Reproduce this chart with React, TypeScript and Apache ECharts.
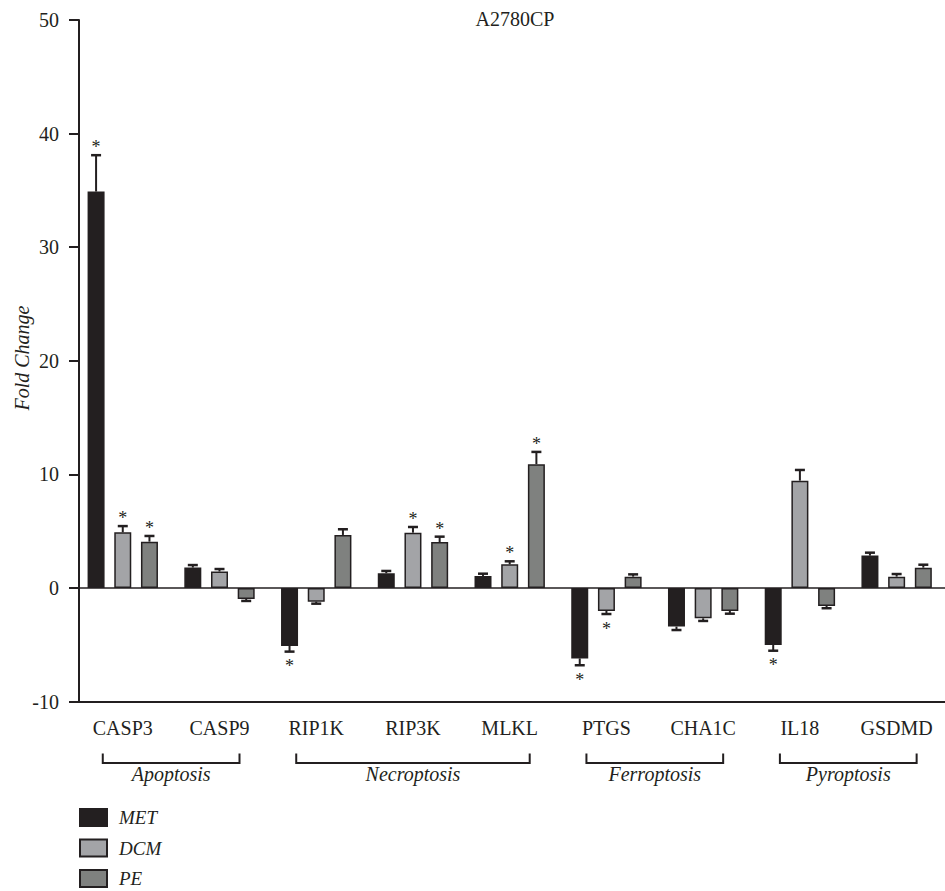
import React, { useEffect, useRef } from "react";
import * as echarts from "echarts";

// Fold change of cell-death marker genes in A2780CP cells
const categories = ["CASP3", "CASP9", "RIP1K", "RIP3K", "MLKL", "PTGS", "CHA1C", "IL18", "GSDMD"];

const metValues = [34.9, 1.8, -5.1, 1.3, 1.06, -6.2, -3.4, -5.02, 2.85];
const metErrors = [3.2, 0.22, 0.5, 0.2, 0.2, 0.6, 0.3, 0.5, 0.26];
const metSignificant = [1, 0, 1, 0, 0, 1, 0, 1, 0];

const dcmValues = [4.9, 1.45, -1.2, 4.87, 2.08, -2.02, -2.67, 9.45, 1.0];
const dcmErrors = [0.55, 0.22, 0.18, 0.5, 0.27, 0.27, 0.23, 0.94, 0.23];
const dcmSignificant = [1, 0, 0, 1, 1, 1, 0, 0, 0];

const peValues = [4.08, -0.97, 4.67, 4.05, 10.9, 1.0, -2.02, -1.58, 1.79];
const peErrors = [0.5, 0.17, 0.5, 0.47, 1.08, 0.2, 0.24, 0.2, 0.26];
const peSignificant = [1, 0, 0, 1, 1, 0, 0, 0, 0];

const groupNames = ["Apoptosis", "Necroptosis", "Ferroptosis", "Pyroptosis"];
const groupFirst = ["CASP3", "RIP1K", "PTGS", "IL18"];
const groupLast = ["CASP9", "MLKL", "CHA1C", "GSDMD"];

const yMin = -10;
const yMax = 50;
const yStep = 10;

const title = "A2780CP";
const yName = "Fold Change";

const INK = "#231f20";
const FONT = "'Liberation Serif', 'DejaVu Serif', serif";
const FS = 20;
const BAR_W = 17;
const BAR_GAP = 0.57;
const PITCH = BAR_W * (1 + BAR_GAP);

const seriesDefs = [
  { name: "MET", values: metValues, errors: metErrors, sig: metSignificant, color: "#231f20", slot: -1 },
  { name: "DCM", values: dcmValues, errors: dcmErrors, sig: dcmSignificant, color: "#a3a4a7", slot: 0 },
  { name: "PE", values: peValues, errors: peErrors, sig: peSignificant, color: "#7f817f", slot: 1 },
];

export default function App() {
  const ref = useRef<HTMLDivElement>(null);

  useEffect(() => {
    if (!ref.current) return;
    const chart = echarts.init(ref.current, undefined, { renderer: "svg" });

    const barSeries: any[] = seriesDefs.map((s, i) => ({
      name: s.name,
      type: "bar",
      data: s.values,
      barWidth: BAR_W,
      barGap: `${BAR_GAP * 100}%`,
      itemStyle: { color: s.color, borderColor: INK, borderWidth: 1.5 },
      z: 2,
      ...(i === 0
        ? {
            markLine: {
              silent: true,
              symbol: ["none", "none"],
              label: { show: false },
              lineStyle: { color: INK, width: 1.6, type: "solid" },
              data: [{ yAxis: 0 }],
            },
          }
        : {}),
    }));

    const errorSeries: any[] = seriesDefs.map((s) => ({
      name: s.name + " error",
      type: "custom",
      z: 3,
      silent: true,
      data: s.values.map((v, k) => [k, v, s.errors[k], s.sig[k]]),
      encode: { x: 0, y: 1 },
      renderItem: (params: any, api: any) => {
        const ci = api.value(0);
        const mean = api.value(1);
        const err = api.value(2);
        const sig = api.value(3);
        const up = mean >= 0;
        const base = api.coord([ci, mean]);
        const tip = api.coord([ci, up ? mean + err : mean - err]);
        const x = base[0] + s.slot * PITCH;
        const children: any[] = [
          {
            type: "line",
            shape: { x1: x, y1: base[1], x2: x, y2: tip[1] },
            style: { stroke: INK, lineWidth: 2 },
          },
          {
            type: "line",
            shape: { x1: x - 5, y1: tip[1], x2: x + 5, y2: tip[1] },
            style: { stroke: INK, lineWidth: 2.5 },
          },
        ];
        if (sig) {
          children.push({
            type: "text",
            style: {
              text: "*",
              x,
              y: up ? tip[1] - 8 : tip[1] + 14.5,
              textAlign: "center",
              textVerticalAlign: "middle",
              fontSize: 18,
              fontFamily: FONT,
              fill: INK,
            },
          });
        }
        return { type: "group", children };
      },
    }));

    chart.setOption({
      animation: false,
      grid: { left: 74.4, top: 20, width: 880.2, bottom: 189.4, containLabel: false },
      legend: {
        data: seriesDefs.map((s) => s.name),
        orient: "vertical",
        left: 79,
        top: 808,
        padding: 0,
        itemWidth: 27,
        itemHeight: 17,
        itemGap: 11.5,
        icon: "rect",
        textStyle: {
          fontSize: 19,
          fontStyle: "italic",
          fontFamily: FONT,
          color: INK,
          padding: [0, 0, 0, 7],
        },
      },
      xAxis: {
        type: "category",
        data: categories,
        axisLine: { onZero: false, lineStyle: { color: INK, width: 2 } },
        axisTick: { alignWithLabel: true, length: 10, lineStyle: { color: INK, width: 2 } },
        axisLabel: { fontSize: FS, fontFamily: FONT, color: INK, margin: 16 },
      },
      yAxis: {
        type: "value",
        min: yMin,
        max: yMax,
        interval: yStep,
        offset: -4.6,
        axisLine: { show: true, lineStyle: { color: INK, width: 2 } },
        axisTick: { show: true, length: 10, lineStyle: { color: INK, width: 2 } },
        axisLabel: { fontSize: FS, fontFamily: FONT, color: INK, margin: 20 },
        splitLine: { show: false },
      },
      series: [...barSeries, ...errorSeries],
    });

    // Title, axis name, and group brackets beneath the category labels
    const axisY = chart.convertToPixel({ yAxisIndex: 0 }, yMin) as number;
    const graphics: any[] = [
      {
        type: "text",
        style: {
          text: title,
          x: 515,
          y: 19,
          textAlign: "center",
          textVerticalAlign: "middle",
          fontSize: FS,
          fontFamily: FONT,
          fill: INK,
        },
      },
      {
        type: "text",
        x: 22,
        y: 358,
        rotation: Math.PI / 2,
        style: {
          text: yName,
          x: 0,
          y: 0,
          textAlign: "center",
          textVerticalAlign: "middle",
          fontSize: FS,
          fontStyle: "italic",
          fontFamily: FONT,
          fill: INK,
        },
      },
    ];
    groupNames.forEach((g, i) => {
      const l = (chart.convertToPixel({ xAxisIndex: 0 }, groupFirst[i]) as number) - 20;
      const r = (chart.convertToPixel({ xAxisIndex: 0 }, groupLast[i]) as number) + 20;
      const top = axisY + 52;
      const bot = axisY + 61.5;
      graphics.push({
        type: "polyline",
        shape: { points: [[l, top], [l, bot], [r, bot], [r, top]] },
        style: { stroke: INK, lineWidth: 2, fill: "none" },
      });
      graphics.push({
        type: "text",
        style: {
          text: g,
          x: (l + r) / 2,
          y: axisY + 72,
          textAlign: "center",
          textVerticalAlign: "middle",
          fontSize: FS,
          fontStyle: "italic",
          fontFamily: FONT,
          fill: INK,
        },
      });
    });
    chart.setOption({ graphic: graphics });

    return () => chart.dispose();
  }, []);

  return (
    <div
      ref={ref}
      style={{ position: "fixed", left: 0, top: 0, width: 945, height: 891, background: "#fff" }}
    />
  );
}
